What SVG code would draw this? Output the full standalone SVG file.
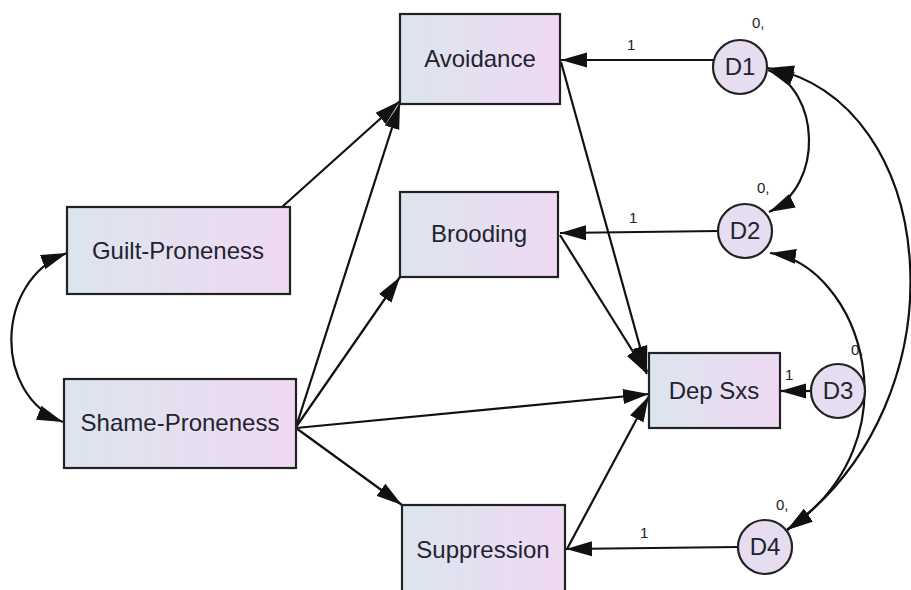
<svg xmlns="http://www.w3.org/2000/svg" width="911" height="590" viewBox="0 0 911 590">
<defs>
<linearGradient id="boxGrad" x1="0" y1="0" x2="1" y2="0">
<stop offset="0" stop-color="#dce5ee"/>
<stop offset="1" stop-color="#efd9f3"/>
</linearGradient>
<marker id="arr" markerUnits="userSpaceOnUse" markerWidth="27" markerHeight="16" refX="26" refY="8" orient="auto-start-reverse" viewBox="0 0 27 16">
<path d="M0,0.5 L26,8 L0,15.5 z" fill="#111"/>
</marker>
<style>
.box{fill:url(#boxGrad);stroke:#222;stroke-width:2.2}
.circ{fill:#e6ddf1;stroke:#222;stroke-width:2.2}
.lbl{font-family:"Liberation Sans",Arial,sans-serif;font-size:24px;fill:#23232f;text-anchor:middle}
.sm{font-family:"Liberation Sans",Arial,sans-serif;font-size:15px;fill:#222}
.con{fill:none;stroke:#111;stroke-width:2.2;marker-end:url(#arr)}
.cov{fill:none;stroke:#111;stroke-width:2.2;marker-start:url(#arr);marker-end:url(#arr)}
</style>
</defs>
<rect width="911" height="590" fill="#fff"/>
<g id="connectors">
<path class="con" d="M713,60 L561,60"/>
<path class="con" d="M718,231 L560,233"/>
<path class="con" d="M811,391 L780,391"/>
<path class="con" d="M738,547 L566,549"/>
<path class="con" d="M282,207 L400,101"/>
<path class="con" d="M296,427 L400,103"/>
<path class="con" d="M296,427 L400,277"/>
<path class="con" d="M296,428 L402,505"/>
<path class="con" d="M296,428 L649,394"/>
<path class="con" d="M561,62 L647,372"/>
<path class="con" d="M560,235 L647,374"/>
<path class="con" d="M567,549 L649,396"/>
<path class="cov" d="M67,253 C-5,280 -8,395 63,422"/>
<path class="cov" d="M768,70 C820,90 825,185 769,212"/>
<path class="cov" d="M768,68 C940,100 968,400 787,530"/>
<path class="cov" d="M770,253 C860,265 920,440 787,530"/>
</g>
<g id="avoidance"><rect class="box" x="400" y="14" width="160" height="90"/><text class="lbl" x="480" y="67">Avoidance</text></g>
<g id="brooding"><rect class="box" x="400" y="192" width="158" height="85"/><text class="lbl" x="479" y="242">Brooding</text></g>
<g id="guilt"><rect class="box" x="67" y="207" width="223" height="87"/><text class="lbl" x="178" y="259">Guilt-Proneness</text></g>
<g id="shame"><rect class="box" x="64" y="379" width="232" height="89"/><text class="lbl" x="180" y="431">Shame-Proneness</text></g>
<g id="depsxs"><rect class="box" x="649" y="353" width="131" height="75"/><text class="lbl" x="714" y="399">Dep Sxs</text></g>
<g id="suppression"><rect class="box" x="402" y="505" width="163" height="92"/><text class="lbl" x="483" y="558">Suppression</text></g>
<g id="d1"><circle class="circ" cx="740" cy="67" r="27"/><text class="lbl" x="740" y="75">D1</text><text class="sm" x="752" y="28">0,</text></g>
<g id="d2"><circle class="circ" cx="745" cy="231" r="27"/><text class="lbl" x="745" y="239">D2</text><text class="sm" x="757" y="193">0,</text></g>
<g id="d3"><circle class="circ" cx="838" cy="391" r="27"/><text class="lbl" x="838" y="399">D3</text><text class="sm" x="851" y="355">0,</text></g>
<g id="d4"><circle class="circ" cx="765" cy="547" r="27"/><text class="lbl" x="765" y="555">D4</text><text class="sm" x="776" y="510">0,</text></g>
<g id="labels">
<text class="sm" x="627" y="50">1</text>
<text class="sm" x="629" y="223">1</text>
<text class="sm" x="785" y="380">1</text>
<text class="sm" x="640" y="538">1</text>
</g>
</svg>
